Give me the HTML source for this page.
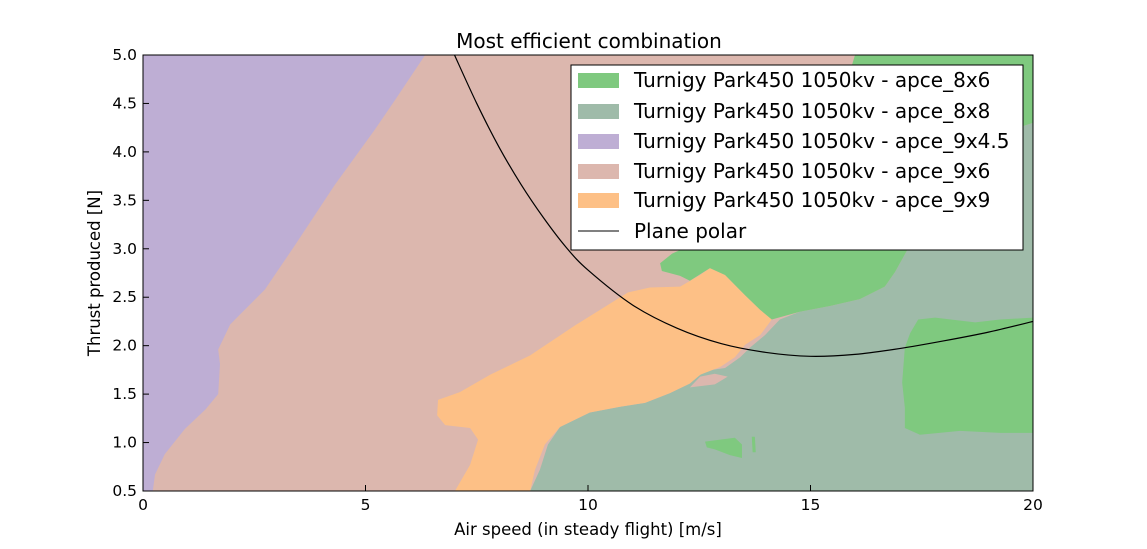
<!DOCTYPE html>
<html><head><meta charset="utf-8"><style>
body{margin:0;background:#fff;font-family:"DejaVu Sans",sans-serif}
svg text{font-family:"DejaVu Sans",sans-serif}
</style></head><body>
<svg id="chart" width="1147" height="545">
<defs><clipPath id="clip"><rect x="143" y="55" width="890" height="436"/></clipPath></defs>
<g id="regions" clip-path="url(#clip)"></g>
<g id="polar" clip-path="url(#clip)"></g>
<rect x="143" y="55" width="890" height="436" fill="none" stroke="#000"/>
<g id="axes"></g>
<text x="589" y="48" font-size="20" text-anchor="middle">Most efficient combination</text>
<text x="588" y="535" font-size="16.5" text-anchor="middle">Air speed (in steady flight) [m/s]</text>
<text x="100" y="273" font-size="16.5" text-anchor="middle" transform="rotate(-90 100 273)">Thrust produced [N]</text>
<g id="legend"></g>
</svg>
<script>
const xTicks=[0,5,10,15,20];
const yTicks=[0.5,1.0,1.5,2.0,2.5,3.0,3.5,4.0,4.5,5.0];
const legendLabels=["Turnigy Park450 1050kv - apce_8x6","Turnigy Park450 1050kv - apce_8x8","Turnigy Park450 1050kv - apce_9x4.5","Turnigy Park450 1050kv - apce_9x6","Turnigy Park450 1050kv - apce_9x9"];
const legendColors=["#7fc97f","#9fbba9","#beaed4","#dcb7ae","#fdc086"];
const polarSpeed=[7,7.5,8,8.5,9,9.5,10,11,12,13,14,15,16,17,18,19,20];
const polarThrust=[5.0,4.5,4.05,3.66,3.32,3.02,2.78,2.42,2.18,2.02,1.93,1.89,1.91,1.97,2.05,2.14,2.25];
const region9x45=[[0,0.5],[0,5],[6.34,5],[5.67,4.54],[5.21,4.23],[4.31,3.66],[3.42,3.04],[2.74,2.58],[1.96,2.22],[1.69,1.96],[1.73,1.81],[1.69,1.5],[1.4,1.34],[0.94,1.14],[0.49,0.88],[0.27,0.67],[0.22,0.5]];
const region9x9=[[6.63,1.44],[7.12,1.52],[7.8,1.7],[8.7,1.9],[9.71,2.21],[10.27,2.37],[10.9,2.55],[11.39,2.6],[12.07,2.61],[12.52,2.73],[12.74,2.8],[13.08,2.73],[13.53,2.52],[13.87,2.37],[14.13,2.27],[13.87,2.11],[13.53,2.01],[13.3,1.88],[12.97,1.78],[12.52,1.7],[12.29,1.61],[11.84,1.51],[11.28,1.41],[10.72,1.37],[10.04,1.31],[9.37,1.16],[9.03,0.98],[8.81,0.72],[8.7,0.5],[7.01,0.5],[7.35,0.77],[7.53,1.03],[7.35,1.15],[6.79,1.18],[6.61,1.28]];
const region8x8=[[8.7,0.5],[8.92,0.72],[9.1,0.98],[9.37,1.16],[10.04,1.31],[10.72,1.37],[11.28,1.41],[11.84,1.51],[12.29,1.61],[12.63,1.74],[13.08,1.77],[13.42,1.88],[13.64,1.98],[13.98,2.11],[14.31,2.27],[14.76,2.35],[15.44,2.41],[16.11,2.48],[16.67,2.61],[16.9,2.76],[17.19,3.0],[17.35,3.13],[17.91,3.57],[18.47,3.88],[19.26,4.19],[20,4.3],[20,0.5]];
const region8x6=[[16.0,5],[20,5],[20,4.3],[19.26,4.19],[18.47,3.88],[17.91,3.57],[17.19,3.0],[16.9,2.76],[16.67,2.61],[16.11,2.48],[15.44,2.41],[14.76,2.35],[14.13,2.27],[13.87,2.37],[13.53,2.52],[13.08,2.73],[12.74,2.8],[12.29,2.67],[12.07,2.72],[11.66,2.77],[11.62,2.85],[11.89,2.95],[12.18,3.01],[12.52,3.03],[13.0,3.1],[14.76,3.1],[16.0,5]];
const region8x6b=[[17.42,2.27],[17.8,2.29],[18.7,2.24],[19.26,2.27],[20,2.29],[20,1.1],[19.26,1.1],[18.36,1.12],[17.46,1.08],[17.12,1.15],[17.12,1.36],[17.06,1.62],[17.12,1.98],[17.24,2.13]];
const region8x6c=[[12.63,1.01],[12.97,1.03],[13.3,1.05],[13.46,0.98],[13.46,0.84],[13.19,0.87],[12.85,0.93],[12.67,0.95]];
const region8x6d=[[13.68,1.06],[13.75,1.06],[13.77,0.9],[13.7,0.9]];
const region9x6b=[[12.29,1.57],[12.52,1.68],[12.85,1.71],[13.14,1.68],[12.85,1.6]];
const X=v=>143+v/20*890, Y=t=>491-(t-0.5)/4.5*436;
const NS="http://www.w3.org/2000/svg";
const regions=document.getElementById('regions');
function poly(pts,fill,name){const p=document.createElementNS(NS,'polygon');
p.setAttribute('points',pts.map(d=>X(d[0])+','+Y(d[1])).join(' '));p.setAttribute('fill',fill);


regions.appendChild(p);}
poly([[0,0.5],[0,5],[20,5],[20,0.5]],legendColors[3],'region-apce-9x6');
poly(region9x45,legendColors[2],'region-apce-9x4-5');
poly(region8x8,legendColors[1],'region-apce-8x8');
poly(region9x9,legendColors[4],'region-apce-9x9');
poly(region8x6,legendColors[0],'region-apce-8x6');
poly(region8x6b,legendColors[0],'region-apce-8x6-island');
poly(region8x6c,legendColors[0],'region-apce-8x6-blob');
poly(region8x6d,legendColors[0],'region-apce-8x6-speck');
poly(region9x6b,legendColors[3],'region-apce-9x6-blob');
const P=polarSpeed.map((s,i)=>[X(s),Y(polarThrust[i])]);
let d='M'+P[0][0]+','+P[0][1];
for(let i=0;i<P.length-1;i++){const p0=P[Math.max(0,i-1)],p1=P[i],p2=P[i+1],p3=P[Math.min(P.length-1,i+2)];
d+=' C'+(p1[0]+(p2[0]-p0[0])/6)+','+(p1[1]+(p2[1]-p0[1])/6)+' '+(p2[0]-(p3[0]-p1[0])/6)+','+(p2[1]-(p3[1]-p1[1])/6)+' '+p2[0]+','+p2[1];}
const pl=document.createElementNS(NS,'path');
pl.setAttribute('d',d);
pl.setAttribute('fill','none');pl.setAttribute('stroke','#000');pl.setAttribute('stroke-width','1.2');


document.getElementById('polar').appendChild(pl);
const axes=document.getElementById('axes');
xTicks.forEach(v=>{const t=document.createElementNS(NS,'text');t.setAttribute('x',X(v));t.setAttribute('y',510);
t.setAttribute('font-size','15.5');t.setAttribute('text-anchor','middle');t.textContent=v;


axes.appendChild(t);
const l=document.createElementNS(NS,'line');l.setAttribute('x1',X(v));l.setAttribute('x2',X(v));l.setAttribute('y1',491);l.setAttribute('y2',485);l.setAttribute('stroke','#000');


axes.appendChild(l);});
yTicks.forEach(v=>{const t=document.createElementNS(NS,'text');t.setAttribute('x',137);t.setAttribute('y',Y(v)+5);
t.setAttribute('font-size','15.5');t.setAttribute('text-anchor','end');t.textContent=v.toFixed(1);


axes.appendChild(t);
const l=document.createElementNS(NS,'line');l.setAttribute('x1',143);l.setAttribute('x2',149);l.setAttribute('y1',Y(v));l.setAttribute('y2',Y(v));l.setAttribute('stroke','#000');


axes.appendChild(l);});
const lg=document.getElementById('legend');
const box=document.createElementNS(NS,'rect');box.setAttribute('x',571);box.setAttribute('y',65);box.setAttribute('width',452);box.setAttribute('height',185);box.setAttribute('fill','#fff');box.setAttribute('stroke','#000');


lg.appendChild(box);
const rows=[80,111,141,171,200,231];
legendLabels.forEach((lab,i)=>{const r=document.createElementNS(NS,'rect');r.setAttribute('x',578);r.setAttribute('y',rows[i]-7);r.setAttribute('width',41);r.setAttribute('height',15);r.setAttribute('fill',legendColors[i]);


lg.appendChild(r);
const t=document.createElementNS(NS,'text');t.setAttribute('x',634);t.setAttribute('y',rows[i]+7);t.setAttribute('font-size','20');t.textContent=lab;


lg.appendChild(t);});
const ll=document.createElementNS(NS,'line');ll.setAttribute('x1',578);ll.setAttribute('x2',619);ll.setAttribute('y1',rows[5]);ll.setAttribute('y2',rows[5]);ll.setAttribute('stroke','#000');


lg.appendChild(ll);
const lt=document.createElementNS(NS,'text');lt.setAttribute('x',634);lt.setAttribute('y',rows[5]+7);lt.setAttribute('font-size','20');lt.textContent='Plane polar';


lg.appendChild(lt);
</script>
</body></html>
